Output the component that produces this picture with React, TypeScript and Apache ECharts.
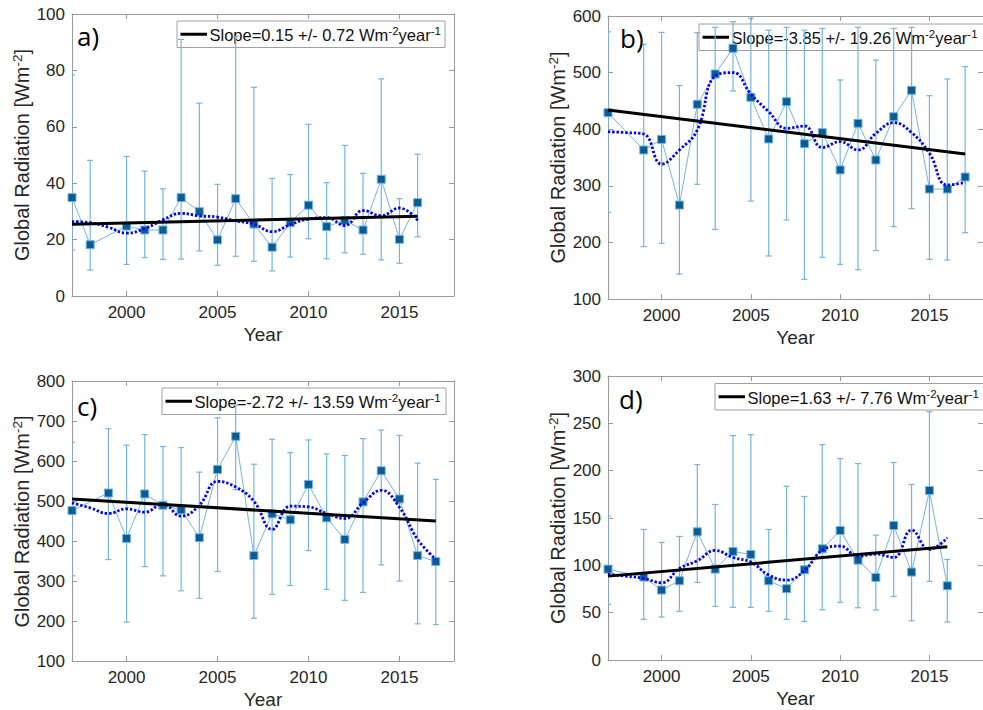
import React, { useEffect, useRef } from 'react';
import * as echarts from 'echarts';

// ---------- DATA ----------
const tickYears = [2000, 2005, 2010, 2015];

// Panel a)
const yearsA = [1997, 1998, 2000, 2001, 2002, 2003, 2004, 2005, 2006, 2007, 2008, 2009, 2010, 2011, 2012, 2013, 2014, 2015, 2016];
const valuesA = [34.9, 18.2, 24.8, 23.4, 23.4, 34.9, 29.9, 19.9, 34.5, 25.5, 17.3, 26.0, 32.2, 24.6, 26.8, 23.4, 41.4, 20.1, 33.1];
const upperA = [78.4, 48.1, 49.5, 44.3, 38.0, 91, 68.4, 39.6, 92, 74.0, 41.7, 43.1, 60.9, 40.2, 53.4, 43.5, 77.0, 34.5, 50.3];
const lowerA = [16.3, 9.2, 11.2, 13.6, 13.0, 13.1, 16.0, 10.9, 14.1, 12.3, 8.9, 13.8, 20.3, 13.2, 15.3, 14.8, 12.8, 11.6, 21.0];
const smoothYearsA = [1997, 1998, 1999, 2000, 2001, 2002, 2003, 2004, 2005, 2006, 2007, 2008, 2009, 2010, 2011, 2012, 2013, 2014, 2015, 2016];
const smoothA = [26.4, 26.0, 24.4, 22.3, 23.9, 27.0, 29.3, 28.4, 28.0, 26.6, 25.5, 22.8, 25.3, 27.3, 27.8, 25.0, 30.3, 28.5, 31.2, 26.8];
const trendYearsA = [1997, 2016];
const trendA = [25.4, 28.3];

// Panel b)
const yearsB = [1997, 1999, 2000, 2001, 2002, 2003, 2004, 2005, 2006, 2007, 2008, 2009, 2010, 2011, 2012, 2013, 2014, 2015, 2016, 2017];
const valuesB = [429.2, 363.3, 382, 266, 444, 497.5, 543, 456.3, 382.7, 448.6, 374.4, 393.9, 328, 410.4, 345.6, 422, 468.7, 294.3, 294.3, 315.5];
const upperB = [572, 550, 571, 477, 570.6, 580, 590, 596, 575, 580, 575, 578, 487, 580, 522, 578, 580, 459.2, 488.7, 510.5];
const lowerB = [253, 192.5, 198.3, 144, 302.6, 223, 467.5, 273, 176, 239.6, 134.7, 173.6, 161.2, 151.8, 185.4, 227.8, 259.6, 170, 169, 217.2];
const smoothYearsB = [1997, 1998, 1999, 2000, 2001, 2002, 2003, 2004, 2005, 2006, 2007, 2008, 2009, 2010, 2011, 2012, 2013, 2014, 2015, 2016, 2017];
const smoothB = [395.6, 394, 391.5, 338.5, 363.3, 398.6, 494, 500, 462, 431, 401.5, 405.7, 367.4, 378, 363.3, 392.7, 411.5, 394, 357.4, 301.4, 306];
const trendYearsB = [1997, 2017];
const trendB = [434, 356];

// Panel c)
const yearsC = [1997, 1999, 2000, 2001, 2002, 2003, 2004, 2005, 2006, 2007, 2008, 2009, 2010, 2011, 2012, 2013, 2014, 2015, 2016, 2017];
const valuesC = [476, 520, 406.5, 517.6, 489.4, 477.8, 408.2, 578.9, 661.7, 363.5, 467.9, 453, 541.6, 457.9, 404, 497.7, 575.6, 505.1, 363.5, 348.6];
const upperC = [647, 680.8, 639.4, 666, 636, 633.6, 572.2, 708, 740, 592, 654.3, 621, 652.6, 617.8, 613.7, 656, 677.5, 664, 594.6, 554];
const lowerC = [313, 353.5, 197, 336, 313, 275.6, 256.6, 323.7, 528.3, 206.9, 266.5, 288.9, 375.9, 279, 251.6, 271.5, 340.3, 299.7, 192.8, 191.1];
const smoothYearsC = [1997, 1998, 1999, 2000, 2001, 2002, 2003, 2004, 2005, 2006, 2007, 2008, 2009, 2010, 2011, 2012, 2013, 2014, 2015, 2016, 2017];
const smoothC = [495.2, 482.8, 468.7, 480.3, 472, 492.7, 462, 489.4, 549, 535, 499.3, 429, 487, 485.3, 468.7, 456.3, 495.2, 526.7, 484.4, 404, 354.3];
const trendYearsC = [1997, 2017];
const trendC = [505, 450];

// Panel d)
const yearsD = [1997, 1999, 2000, 2001, 2002, 2003, 2004, 2005, 2006, 2007, 2008, 2009, 2010, 2011, 2012, 2013, 2014, 2015, 2016];
const valuesD = [96, 87.6, 73.9, 83.7, 135.4, 96, 114.7, 111.5, 83.7, 75.3, 95.3, 117.5, 136.8, 105.5, 87.2, 142.1, 92.9, 179, 78.4];
const upperD = [152, 137.9, 124.2, 130.5, 206.5, 164.3, 237, 238, 137.9, 183.6, 172.7, 227.6, 212.8, 207.5, 131.9, 208.6, 185.4, 262.4, 106.2];
const lowerD = [58.8, 42.9, 45.4, 51.4, 82, 56.6, 55.6, 55.6, 51.4, 42.9, 40.8, 53.1, 60.9, 55.2, 52.8, 67.2, 41.5, 83, 40.1];
const smoothYearsD = [1997, 1998, 1999, 2000, 2001, 2002, 2003, 2004, 2005, 2006, 2007, 2008, 2009, 2010, 2011, 2012, 2013, 2014, 2015, 2016];
const smoothD = [90.7, 88.6, 86.2, 81.6, 96.7, 104.8, 115.7, 108.3, 103.4, 89.7, 84.4, 94.3, 116, 120.3, 109.7, 111.9, 108.3, 137.2, 116.8, 129];
const trendYearsD = [1997, 2016];
const trendD = [88.6, 119.6];

const panelLabels = ['a)', 'b)', 'c)', 'd)'];
const slopeTexts = [
  'Slope=0.15 +/- 0.72 Wm{s|-2}year{s|-1}',
  'Slope=-3.85 +/- 19.26 Wm{s|-2}year{s|-1}',
  'Slope=-2.72 +/- 13.59 Wm{s|-2}year{s|-1}',
  'Slope=1.63 +/- 7.76 Wm{s|-2}year{s|-1}',
];
const yRanges = [
  { min: 0, max: 100, interval: 20 },
  { min: 100, max: 600, interval: 100 },
  { min: 100, max: 800, interval: 100 },
  { min: 0, max: 300, interval: 50 },
];

// ---------- STYLE / LAYOUT ----------
const FONT = 'Liberation Sans, Arial, Helvetica, sans-serif';
const AX = '#9a9a9a';
const TXT = '#262626';
const EB = '#74b4e4';
const MARK = '#0a5d94';

const grids = [
  { left: 72, top: 14, width: 382, height: 282 },
  { left: 608, top: 16, width: 384, height: 283 },
  { left: 72, top: 381, width: 382, height: 281 },
  { left: 608, top: 376, width: 386, height: 284 },
];
const legendBoxes = [
  { x: 177, y: 21, w: 268, h: 26.5 },
  { x: 699, y: 24, w: 300, h: 26.5 },
  { x: 162, y: 388, w: 284, h: 26.5 },
  { x: 715, y: 383.5, w: 300, h: 26.5 },
];
const labelPos = [
  { x: 77, y: 36 },
  { x: 620, y: 38 },
  { x: 77, y: 406 },
  { x: 619, y: 399 },
];

const panels = [
  { years: yearsA, values: valuesA, upper: upperA, lower: lowerA, sy: smoothYearsA, sv: smoothA, ty: trendYearsA, tv: trendA },
  { years: yearsB, values: valuesB, upper: upperB, lower: lowerB, sy: smoothYearsB, sv: smoothB, ty: trendYearsB, tv: trendB },
  { years: yearsC, values: valuesC, upper: upperC, lower: lowerC, sy: smoothYearsC, sv: smoothC, ty: trendYearsC, tv: trendC },
  { years: yearsD, values: valuesD, upper: upperD, lower: lowerD, sy: smoothYearsD, sv: smoothD, ty: trendYearsD, tv: trendD },
];

function buildOption() {
  const xAxis: any[] = [];
  const yAxis: any[] = [];
  const series: any[] = [];
  const graphic: any[] = [];

  panels.forEach((p, i) => {
    const g = grids[i];
    const yr = yRanges[i];
    xAxis.push({
      type: 'value', gridIndex: i, min: 1997, max: 2018, position: 'bottom',
      axisLine: { show: true, onZero: false, lineStyle: { color: AX, width: 1 } },
      axisTick: { show: true, inside: true, length: 5, customValues: tickYears, lineStyle: { color: AX } },
      axisLabel: {
        show: true, customValues: tickYears, fontSize: 17, fontFamily: FONT, color: TXT, margin: 8,
        formatter: (v: number) => String(v),
      },
      splitLine: { show: false },
      name: 'Year', nameLocation: 'middle', nameGap: 29,
      nameTextStyle: { fontSize: 19, fontFamily: FONT, color: TXT },
    });
    xAxis.push({
      type: 'value', gridIndex: i, min: 1997, max: 2018, position: 'top',
      axisLine: { show: true, onZero: false, lineStyle: { color: AX, width: 1 } },
      axisTick: { show: true, inside: true, length: 5, customValues: tickYears, lineStyle: { color: AX } },
      axisLabel: { show: false },
      splitLine: { show: false },
    });
    yAxis.push({
      type: 'value', gridIndex: i, min: yr.min, max: yr.max, interval: yr.interval, position: 'left',
      axisLine: { show: true, onZero: false, lineStyle: { color: AX, width: 1 } },
      axisTick: { show: true, inside: true, length: 5, lineStyle: { color: AX } },
      axisLabel: { show: true, fontSize: 17, fontFamily: FONT, color: TXT, margin: 7, formatter: (v: number) => String(v) },
      splitLine: { show: false },
    });
    yAxis.push({
      type: 'value', gridIndex: i, min: yr.min, max: yr.max, interval: yr.interval, position: 'right',
      axisLine: { show: true, onZero: false, lineStyle: { color: AX, width: 1 } },
      axisTick: { show: true, inside: true, length: 5, lineStyle: { color: AX } },
      axisLabel: { show: false },
      splitLine: { show: false },
    });

    const xi = 2 * i;
    const yi = 2 * i;

    series.push({
      type: 'custom', xAxisIndex: xi, yAxisIndex: yi, clip: true, z: 2,
      encode: { x: 0, y: [1, 2] },
      data: p.years.map((y, k) => [y, p.lower[k], p.upper[k]]),
      renderItem: (params: any, api: any) => {
        const x = api.value(0);
        const lo = api.coord([x, api.value(1)]);
        const hi = api.coord([x, api.value(2)]);
        const w = 3;
        const style = { stroke: EB, lineWidth: 1.2, fill: 'none' };
        return {
          type: 'group',
          children: [
            { type: 'line', shape: { x1: lo[0], y1: lo[1], x2: hi[0], y2: hi[1] }, style },
            { type: 'line', shape: { x1: lo[0] - w, y1: lo[1], x2: lo[0] + w, y2: lo[1] }, style },
            { type: 'line', shape: { x1: hi[0] - w, y1: hi[1], x2: hi[0] + w, y2: hi[1] }, style },
          ],
        };
      },
    });
    series.push({
      type: 'line', xAxisIndex: xi, yAxisIndex: yi, z: 3,
      data: p.years.map((y, k) => [y, p.values[k]]),
      lineStyle: { color: EB, width: 1 },
      symbol: 'rect', symbolSize: 8, showSymbol: true,
      itemStyle: { color: MARK, borderColor: EB, borderWidth: 1 },
    });
    series.push({
      type: 'line', xAxisIndex: xi, yAxisIndex: yi, z: 4,
      data: p.sy.map((y, k) => [y, p.sv[k]]),
      smooth: 0.45, symbol: 'none',
      lineStyle: { color: '#0000ff', width: 2.8, type: [2.4, 1.9], cap: 'butt' },
    });
    series.push({
      type: 'line', xAxisIndex: xi, yAxisIndex: yi, z: 5,
      data: p.ty.map((y, k) => [y, p.tv[k]]),
      symbol: 'none',
      lineStyle: { color: '#000000', width: 3 },
    });

    // legend box
    const lb = legendBoxes[i];
    const cy = lb.y + lb.h / 2;
    graphic.push({
      type: 'group', z: 100,
      children: [
        { type: 'rect', shape: { x: lb.x, y: lb.y, width: lb.w, height: lb.h }, style: { fill: '#ffffff', stroke: '#a0a0a0', lineWidth: 1 } },
        { type: 'line', shape: { x1: lb.x + 3.5, y1: cy, x2: lb.x + 30, y2: cy }, style: { stroke: '#000', lineWidth: 3 } },
        {
          type: 'text', x: lb.x + 32.5, y: cy + 1,
          style: {
            text: slopeTexts[i], fontSize: 16.5, fontFamily: FONT, fill: '#111',
            align: 'left', verticalAlign: 'middle', lineHeight: 20,
            rich: { s: { fontSize: 11.5, fontFamily: FONT, fill: '#111', verticalAlign: 'top', lineHeight: 11 } },
          },
        },
      ],
    });
    // panel label
    const lp = labelPos[i];
    graphic.push({
      type: 'text', x: lp.x, y: lp.y, z: 101,
      style: { text: panelLabels[i], fontSize: 26, fontFamily: 'Open Sans, sans-serif', fill: '#000', align: 'left', verticalAlign: 'middle' },
    });
    // y axis title
    graphic.push({
      type: 'text', x: g.left - 50, y: g.top + g.height / 2, rotation: Math.PI / 2, z: 101,
      style: {
        text: 'Global Radiation [Wm{s|-2}]', fontSize: 20, fontFamily: FONT, fill: TXT,
        align: 'center', verticalAlign: 'middle', lineHeight: 23,
        rich: { s: { fontSize: 13.5, fontFamily: FONT, fill: TXT, verticalAlign: 'top', lineHeight: 13 } },
      },
    });
  });

  return {
    animation: false,
    backgroundColor: '#ffffff',
    grid: grids.map((g) => ({ ...g, containLabel: false })),
    xAxis, yAxis, series, graphic,
  };
}

export default function App() {
  const ref = useRef<HTMLDivElement>(null);
  useEffect(() => {
    if (!ref.current) return;
    const chart = echarts.init(ref.current, undefined, { renderer: 'svg' });
    chart.setOption(buildOption() as any);
    return () => chart.dispose();
  }, []);
  return (
    <div
      ref={ref}
      style={{ position: 'fixed', left: 0, top: 0, width: 983, height: 710, background: '#fff', overflow: 'hidden' }}
    />
  );
}
